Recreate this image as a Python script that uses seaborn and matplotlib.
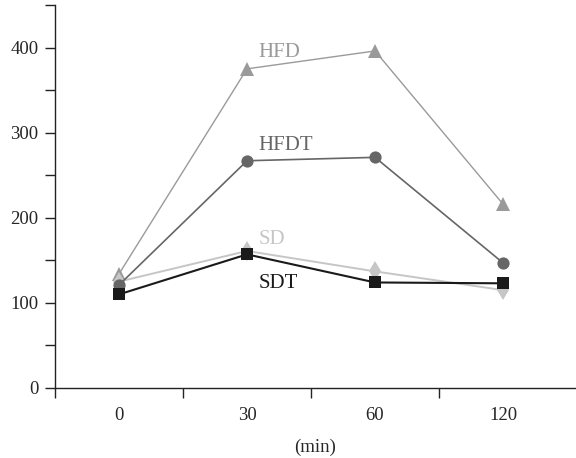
import numpy as np
import pandas as pd
import matplotlib
matplotlib.use('Agg')
import matplotlib.pyplot as plt
import seaborn as sns

# values
times = ['0', '30', '60', '120']
hfd = [134, 375, 396, 216]
hfdt = [121, 267, 271, 147]
sd = [125, 161, 137, 115]
sdt = [110, 157, 124, 123]

groups = ['HFD', 'SD', 'HFDT', 'SDT']
series = {'HFD': hfd, 'SD': sd, 'HFDT': hfdt, 'SDT': sdt}
colors = {'HFD': '#9a9a9a', 'HFDT': '#666666', 'SD': '#c6c6c6', 'SDT': '#1a1a1a'}
markers = {'HFD': '^', 'HFDT': 'o', 'SD': 'd', 'SDT': 's'}
msizes = {'HFD': 10.5, 'HFDT': 8.8, 'SD': 10, 'SDT': 8.8}
lwidths = {'HFD': 1.0, 'HFDT': 1.2, 'SD': 1.4, 'SDT': 1.5}
label_y = {'HFD': 394, 'HFDT': 285, 'SD': 175, 'SDT': 123}

rows = []
for g in groups:
    for i, v in enumerate(series[g]):
        rows.append({'group': g, 'pos': i, 'time': times[i], 'value': v})
df = pd.DataFrame(rows)

sns.set_style('ticks')
plt.rcParams['font.family'] = ['Liberation Serif', 'DejaVu Serif']

fig = plt.figure(figsize=(5.76, 4.58), dpi=100)
ax = fig.add_axes([55 / 576, 70 / 458, 521 / 576, 383 / 458])

for g in groups:
    sub = df[df['group'] == g]
    sns.lineplot(data=sub, x='pos', y='value', ax=ax, color=colors[g],
                 marker=markers[g], markersize=msizes[g], markeredgewidth=0,
                 linewidth=lwidths[g], legend=False)
    ax.text(1.09, label_y[g], g, color=colors[g], fontsize=15,
            ha='left', va='center')

ax.set_xlim(-0.5, 3.57)
ax.set_ylim(0, 450)
sns.despine(ax=ax)
for s in ['left', 'bottom']:
    ax.spines[s].set_color('#222222')
    ax.spines[s].set_linewidth(1.0)

ax.set_xticks(range(len(times)))
ax.set_xticklabels(times, fontsize=13.5)
ax.set_xticks([-0.5, 0.5, 1.5, 2.5], minor=True)
ax.tick_params(axis='x', which='major', length=0, pad=14)
ax.tick_params(axis='x', which='minor', length=7, width=1, color='#222222', direction='out')

ax.set_yticks([0, 100, 200, 300, 400])
ax.set_yticklabels(['0', '100', '200', '300', '400'], fontsize=13.5)
ax.set_yticks(np.arange(50, 451, 100), minor=True)
ax.tick_params(axis='y', which='both', length=7, width=1, color='#222222', direction='out')
ax.tick_params(axis='y', which='major', pad=5)

ax.set_xlabel('(min)', fontsize=13.5, labelpad=10)
ax.set_ylabel('')

fig.savefig('out.png', dpi=100)
